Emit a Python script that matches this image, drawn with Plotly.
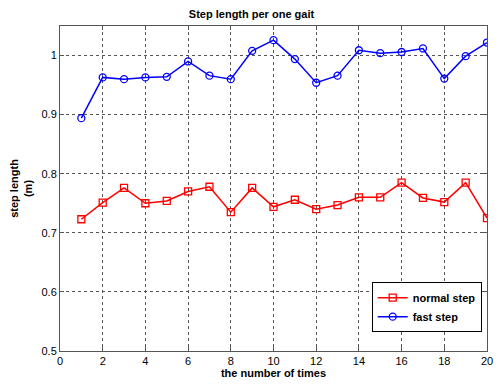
import plotly.graph_objects as go

times = list(range(1, 21))
normal_step = [0.723, 0.751, 0.776, 0.750, 0.754, 0.770, 0.778, 0.735, 0.776, 0.744,
               0.756, 0.740, 0.747, 0.760, 0.760, 0.785, 0.759, 0.752, 0.785, 0.725]
fast_step = [0.894, 0.963, 0.960, 0.963, 0.964, 0.990, 0.966, 0.960, 1.008, 1.026,
             0.994, 0.954, 0.966, 1.009, 1.004, 1.006, 1.012, 0.961, 0.999, 1.022]
x_ticks = list(range(0, 21, 2))
y_ticks = [0.5, 0.6, 0.7, 0.8, 0.9, 1.0]
y_tick_text = ["0.5", "0.6", "0.7", "0.8", "0.9", "1"]

font = "Liberation Sans, Arial, sans-serif"

fig = go.Figure()
fig.add_trace(go.Scatter(x=times, y=normal_step, mode="lines+markers", name="<b>normal step</b>",
                         line=dict(color="#ff0000", width=1.5),
                         marker=dict(symbol="square-open", size=7, color="#ff0000", line=dict(width=1.3))))
fig.add_trace(go.Scatter(x=times, y=fast_step, mode="lines+markers", name="<b>fast step</b>",
                         line=dict(color="#0000ff", width=1.5),
                         marker=dict(symbol="circle-open", size=7, color="#0000ff", line=dict(width=1.3))))

axis_common = dict(showline=True, linecolor="#555555", linewidth=1, mirror="ticks",
                   ticks="inside", ticklen=4, tickcolor="#555555",
                   showgrid=True, gridcolor="#555555", griddash="dot", gridwidth=1,
                   zeroline=False, tickfont=dict(family=font, size=11, color="black"))

fig.update_xaxes(range=[0, 20], tickvals=x_ticks, **axis_common,
                 title=dict(text="<b>the number of times</b>", font=dict(family=font, size=11, color="black"), standoff=2))
fig.update_yaxes(range=[0.5, 1.05], tickvals=y_ticks, ticktext=y_tick_text, **axis_common,
                 title=dict(text="<b>step length<br>(m)</b>", font=dict(family=font, size=11, color="black"), standoff=6))

fig.update_layout(
    width=503, height=387,
    margin=dict(l=60, r=10, t=26, b=30),
    paper_bgcolor="white", plot_bgcolor="white",
    title=dict(text="<b>Step length per one gait</b>", x=0.5, xanchor="center", y=1 - 14/387, yanchor="middle",
               font=dict(family=font, size=11, color="black")),
    legend=dict(x=0.73, y=0.058, xanchor="left", yanchor="bottom",
                bordercolor="black", borderwidth=1, bgcolor="white",
                font=dict(family=font, size=11, color="black"),
                tracegroupgap=0, itemwidth=30),
    showlegend=True,
)

fig.write_html("out.html")
